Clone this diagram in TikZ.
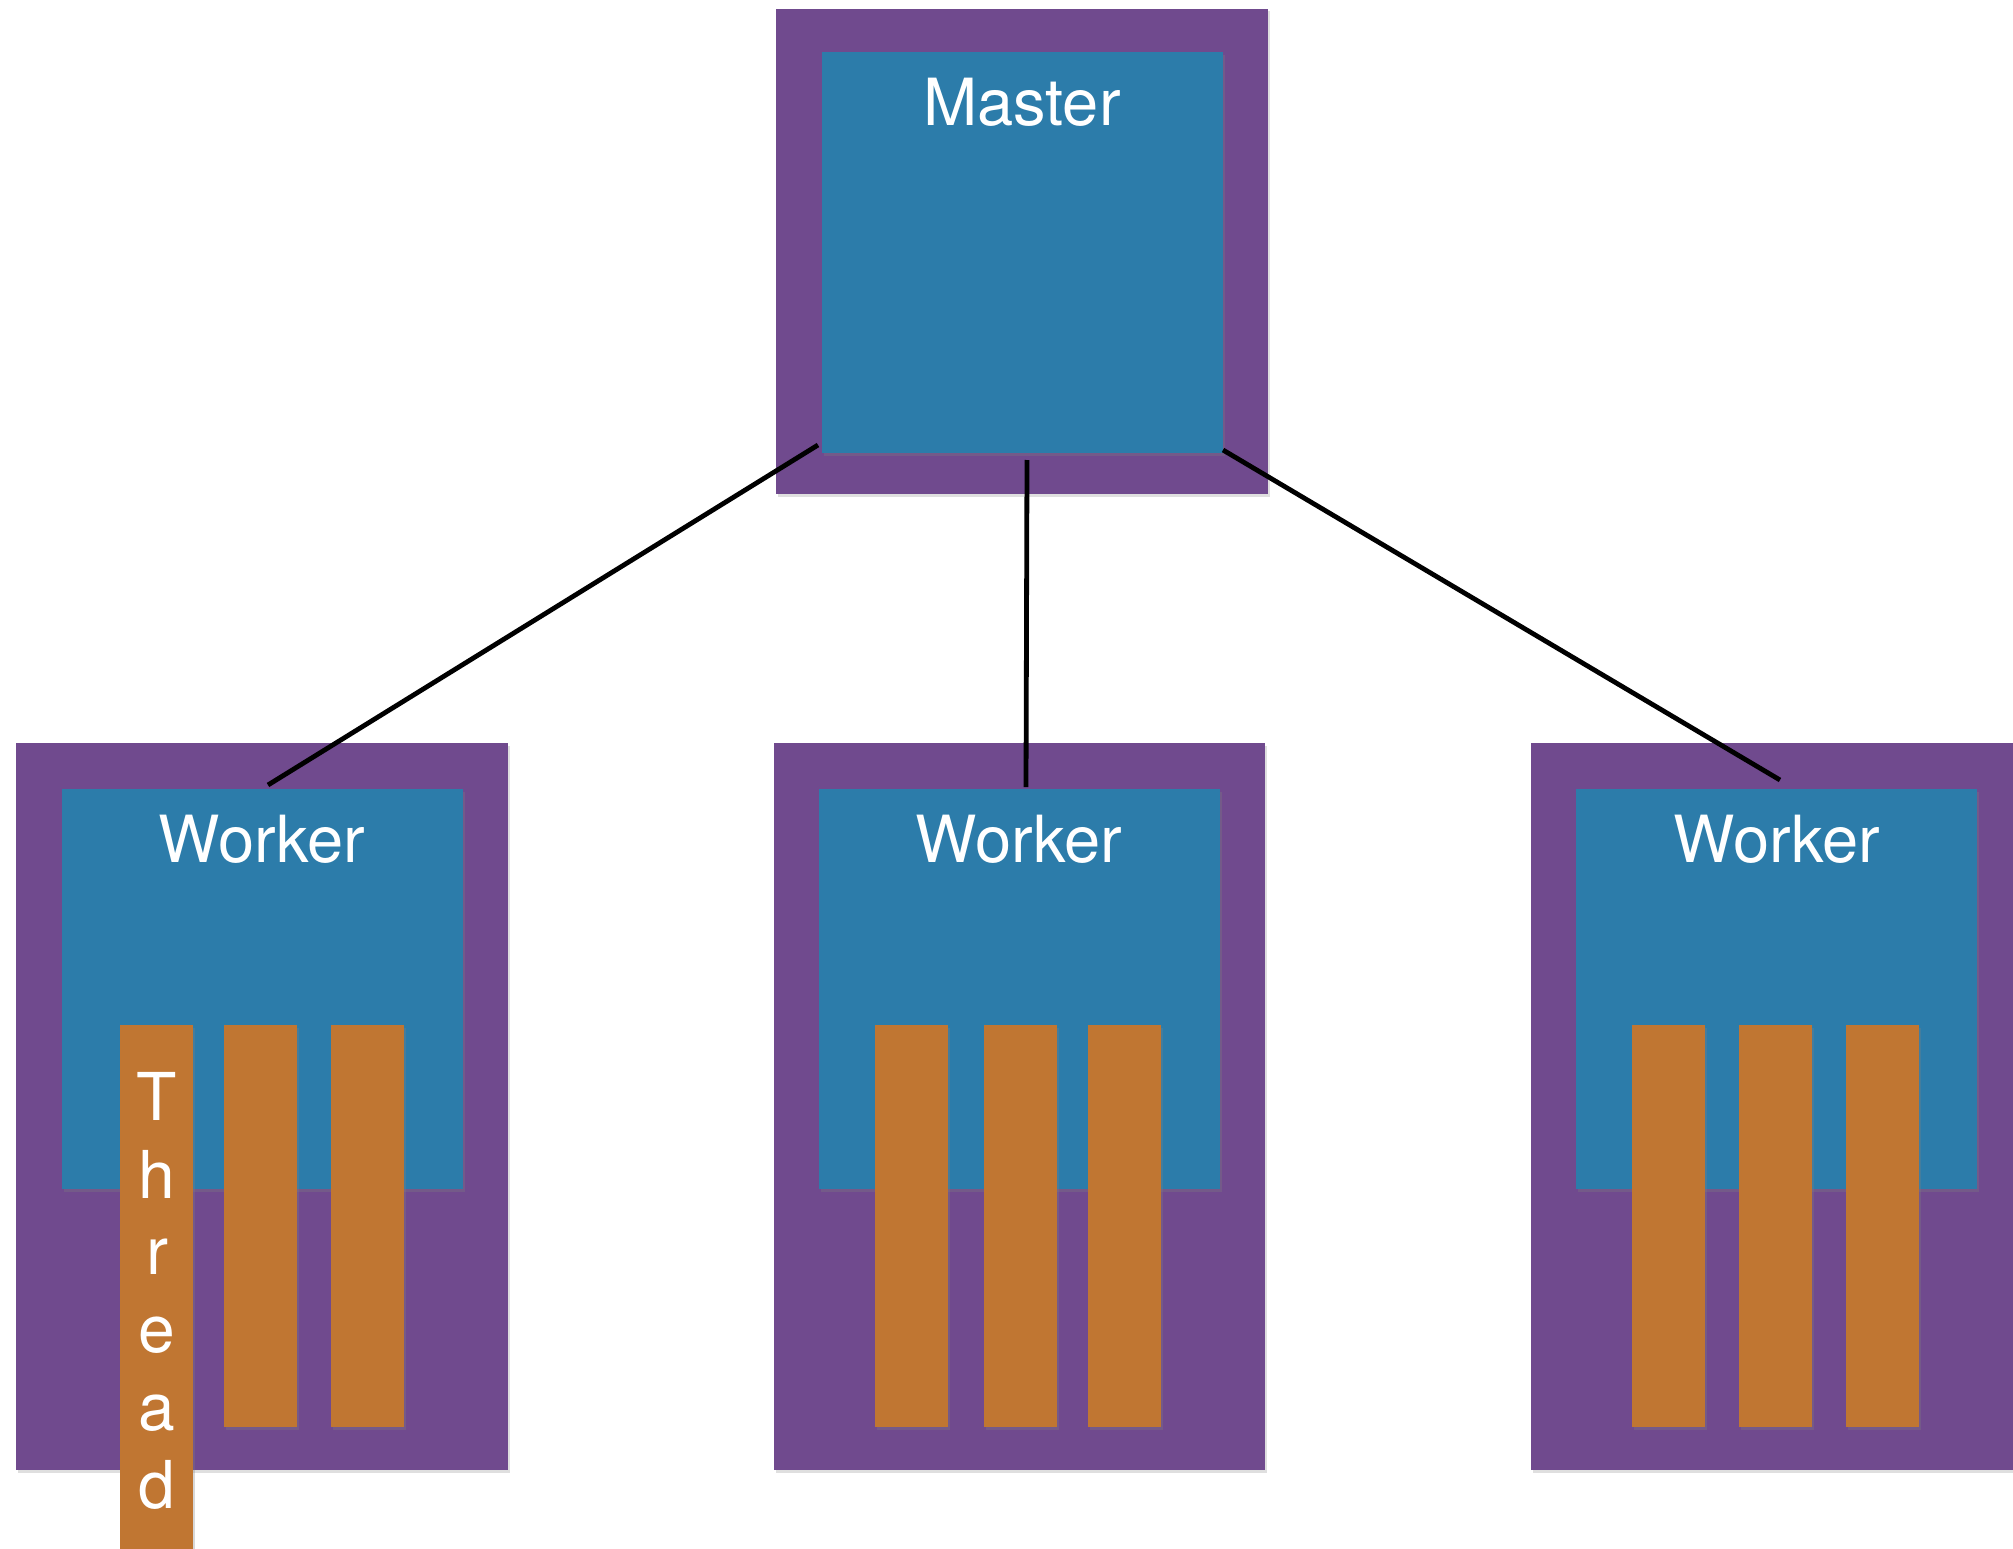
\documentclass[tikz,border=0pt]{standalone}
\usepackage{fontspec}
\setmainfont{TeX Gyre Heros}
\usetikzlibrary{shadows}
\definecolor{felt}{RGB}{112,74,142}
\definecolor{sky}{RGB}{44,124,170}
\definecolor{rust}{RGB}{192,118,50}
\tikzset{
  box/.style={anchor=north west, inner sep=0pt, outer sep=0pt, draw=none},
  outerbox/.style={box, fill=felt, drop shadow={shadow xshift=1.5pt, shadow yshift=-2.5pt, opacity=0.25}},
  innerbox/.style={box, fill=sky, minimum width=401pt, minimum height=400pt, drop shadow={shadow xshift=2pt, shadow yshift=-3pt, opacity=0.3}},
  threadbox/.style={box, fill=rust, minimum width=73pt, minimum height=402pt, drop shadow={shadow xshift=2pt, shadow yshift=-3pt, opacity=0.3}},
  lbl/.style={anchor=base, text=white, font=\fontsize{65}{65}\selectfont, inner sep=0pt},
  tlbl/.style={anchor=base, text=white, font=\fontsize{66}{66}\selectfont, inner sep=0pt},
  link/.style={draw=black, line width=4.8pt}
}
\begin{document}
\begin{tikzpicture}[x=1pt,y=-1pt]
\path[use as bounding box, fill=white] (0,0) rectangle (2013,1549);
% master
\node[outerbox, minimum width=492pt, minimum height=485pt] (mo) at (776,9) {};
\node[innerbox, minimum height=401pt] (mi) at (822,52) {};
\node[lbl] (mt) at (1022,126) {Master};
% workers
\node[outerbox, minimum width=492pt, minimum height=727pt] (w1o) at (16,743) {};
\node[outerbox, minimum width=491pt, minimum height=727pt] (w2o) at (774,743) {};
\node[outerbox, minimum width=492pt, minimum height=727pt] (w3o) at (1531,743) {};
\node[innerbox] (w1i) at (62,789) {};
\node[innerbox] (w2i) at (819,789) {};
\node[innerbox] (w3i) at (1576,789) {};
\node[lbl] (w1t) at (262,862) {Worker};
\node[lbl] (w2t) at (1019,862) {Worker};
\node[lbl] (w3t) at (1777,862) {Worker};
% threads
\node[threadbox, minimum height=530pt] (t11) at (120,1025) {};
\node[threadbox] (t12) at (224,1025) {};
\node[threadbox] (t13) at (331,1025) {};
\node[threadbox] (t21) at (875,1025) {};
\node[threadbox] (t22) at (984,1025) {};
\node[threadbox] (t23) at (1088,1025) {};
\node[threadbox] (t31) at (1632,1025) {};
\node[threadbox] (t32) at (1739,1025) {};
\node[threadbox] (t33) at (1846,1025) {};
% Thread label
\node[tlbl] (l1) at (157,1120) {T};
\node[tlbl] (l2) at (157,1198) {h};
\node[tlbl] (l3) at (157,1274) {r};
\node[tlbl] (l4) at (157,1352) {e};
\node[tlbl] (l5) at (157,1430) {a};
\node[tlbl] (l6) at (157,1508) {d};
% connectors
\coordinate (ma) at (818,445);
\coordinate (mb) at (1027,460);
\coordinate (mc) at (1223,450);
\coordinate (wa) at (268,785);
\coordinate (wb) at (1026,787);
\coordinate (wc) at (1780,780);
\draw[link] (ma) -- (wa);
\draw[link] (mb) -- (wb);
\draw[link] (mc) -- (wc);
\end{tikzpicture}
\end{document}
